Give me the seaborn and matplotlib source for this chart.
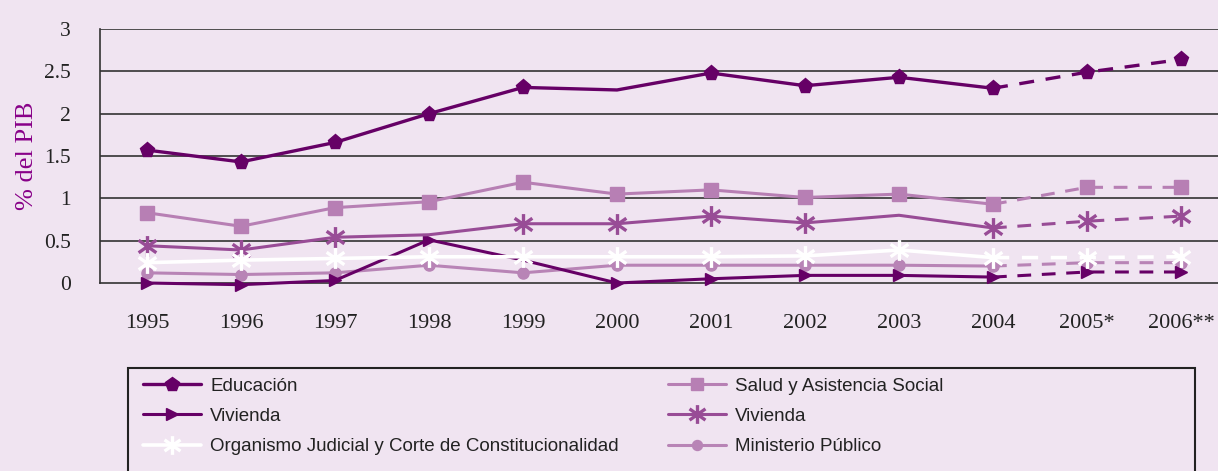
import numpy as np
import pandas as pd
import matplotlib
matplotlib.use("Agg")
import matplotlib.pyplot as plt
from matplotlib.path import Path
from matplotlib.lines import Line2D
from matplotlib.patches import Rectangle
import seaborn as sns

years = ["1995", "1996", "1997", "1998", "1999", "2000", "2001", "2002", "2003", "2004", "2005*", "2006**"]
educacion = [1.57, 1.43, 1.66, 2.00, 2.31, 2.28, 2.48, 2.33, 2.43, 2.30, 2.49, 2.64]
salud = [0.83, 0.67, 0.89, 0.96, 1.19, 1.05, 1.10, 1.01, 1.05, 0.93, 1.13, 1.13]
vivienda_tri = [0.00, -0.02, 0.03, 0.51, 0.27, 0.00, 0.05, 0.09, 0.09, 0.07, 0.13, 0.13]
vivienda_x = [0.44, 0.39, 0.54, 0.57, 0.70, 0.70, 0.79, 0.71, 0.80, 0.65, 0.73, 0.79]
organismo = [0.24, 0.27, 0.29, 0.31, 0.31, 0.31, 0.31, 0.32, 0.39, 0.30, 0.30, 0.31]
ministerio = [0.12, 0.10, 0.12, 0.21, 0.12, 0.21, 0.21, 0.21, 0.21, 0.20, 0.24, 0.24]

labels = ["Educación", "Salud y Asistencia Social", "Vivienda", "Vivienda",
          "Organismo Judicial y Corte de Constitucionalidad", "Ministerio Público"]

BG = "#f0e4f1"
DARK = "#660066"
LIGHT = "#b77fb4"
MED = "#984c96"

# asterisk marker (x with vertical bar)
star_path = Path(
    [(0, -1), (0, 1), (-0.85, -0.6), (0.85, 0.6), (-0.85, 0.6), (0.85, -0.6)],
    [Path.MOVETO, Path.LINETO, Path.MOVETO, Path.LINETO, Path.MOVETO, Path.LINETO],
)

sns.set_theme(style="white")
plt.rcParams["font.family"] = ["Liberation Serif", "DejaVu Serif"]

W, H = 1218, 471
fig = plt.figure(figsize=(W / 100, H / 100), dpi=100, facecolor=BG)
ax = fig.add_axes([100 / W, (H - 283) / H, 1128 / W, 254 / H])
ax.set_facecolor(BG)

x = np.arange(len(years))

series = [
    # values, color, marker, ms, mew, lw, hidden marker idx, z
    (educacion, DARK, "p", 11, 1, 2.4, [5], 6),
    (salud, LIGHT, "s", 10, 1, 2.2, [], 4),
    (vivienda_tri, DARK, ">", 9, 1, 2.2, [4], 3),
    (vivienda_x, MED, star_path, 15, 2.4, 2.2, [3, 8], 5),
    (organismo, "white", star_path, 15, 2.4, 2.6, [], 7),
    (ministerio, "#b884b6", "o", 8, 1, 2.2, [], 2),
]

handles = []
for vals, col, mk, ms, mew, lw, hidden, z in series:
    vals = np.asarray(vals)
    solid = x <= 9
    dashed = x >= 9
    mark_solid = [i for i in range(10) if i not in hidden]
    face = "none" if mk is star_path else col
    df_s = pd.DataFrame({"x": x[solid], "y": vals[solid]})
    df_d = pd.DataFrame({"x": x[dashed], "y": vals[dashed]})
    sns.lineplot(data=df_s, x="x", y="y", ax=ax, color=col, linewidth=lw,
                 marker=mk, markersize=ms, markeredgewidth=mew,
                 markeredgecolor=col, markerfacecolor=face,
                 markevery=mark_solid, zorder=z, clip_on=False, legend=False)
    sns.lineplot(data=df_d, x="x", y="y", ax=ax, color=col, linewidth=lw,
                 linestyle=(0, (4.5, 3.5)),
                 marker=mk, markersize=ms, markeredgewidth=mew,
                 markeredgecolor=col, markerfacecolor=face,
                 markevery=[1, 2], zorder=z, clip_on=False, legend=False)
    handles.append(Line2D([], [], color=col, linewidth=lw, marker=mk,
                          markersize=ms * 0.9, markeredgewidth=mew,
                          markeredgecolor=col, markerfacecolor=face))

ax.set_xlim(-0.5, 11.5)
ax.set_ylim(0, 3)
ax.set_yticks([0, 0.5, 1, 1.5, 2, 2.5, 3])
ax.set_yticklabels(["0", "0.5", "1", "1.5", "2", "2.5", "3"], fontsize=15.5)
ax.set_xticks(x)
ax.set_xticklabels(years, fontsize=16)
ax.set_xticks(np.arange(0.5, 11, 1), minor=True)
ax.tick_params(axis="x", which="major", length=0, pad=22, colors="#222222")
ax.tick_params(axis="x", which="minor", length=6, width=1, color="#333333", direction="out")
ax.tick_params(axis="y", length=7, width=1, color="#333333", direction="out", pad=14, colors="#222222")
ax.tick_params(axis="y", color="#333333")
ax.set_xlabel("")
ax.set_ylabel("% del PIB", fontsize=19, color="#880088", labelpad=4)

ax.grid(False)
for yv in [0.5, 1, 1.5, 2, 2.5, 3]:
    ax.axhline(yv, color="#333333", linewidth=1.2, zorder=1)
for s in ["top", "right"]:
    ax.spines[s].set_visible(False)
ax.spines["left"].set_color("#333333")
ax.spines["bottom"].set_color("#333333")
ax.spines["left"].set_linewidth(1.2)
ax.spines["bottom"].set_linewidth(1.2)

# legend box
fig.patches.append(Rectangle((128 / W, -0.05), (1195 - 128) / W, (H - 368) / H + 0.05,
                             transform=fig.transFigure, facecolor="none",
                             edgecolor="#222222", linewidth=1.5))

leg_kw = dict(loc="upper left", frameon=False, handlelength=3.1, handletextpad=0.5,
              labelspacing=0.7, borderaxespad=0,
              prop={"family": ["Liberation Sans", "DejaVu Sans"], "size": 13.5})
order1 = [0, 2, 4]
order2 = [1, 3, 5]
l1 = fig.legend([handles[i] for i in order1], [labels[i] for i in order1],
                bbox_to_anchor=(135 / W, (H - 370) / H), **leg_kw)
l2 = fig.legend([handles[i] for i in order2], [labels[i] for i in order2],
                bbox_to_anchor=(660 / W, (H - 370) / H), **leg_kw)
for t in l1.get_texts() + l2.get_texts():
    t.set_color("#222222")

fig.savefig("out.png", dpi=100, facecolor=BG)
